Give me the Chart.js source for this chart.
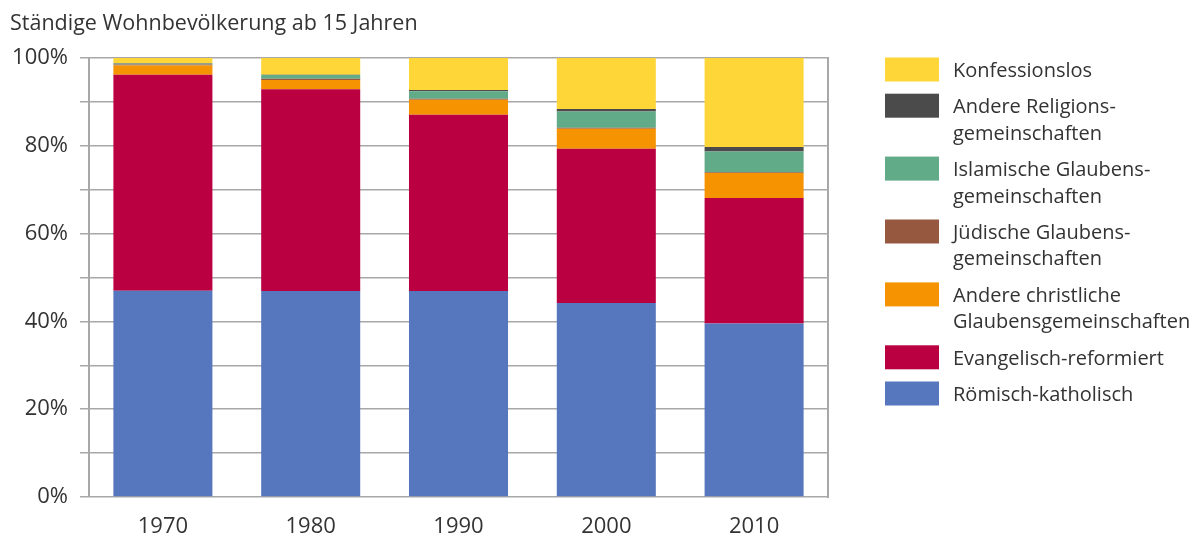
<!DOCTYPE html>
<html lang="de">
<head>
<meta charset="utf-8">
<script src="https://cdn.jsdelivr.net/npm/chart.js@4/dist/chart.umd.min.js"></script>
<style>
  html, body { margin: 0; padding: 0; background: #fff; }
  #wrap { width: 1192px; height: 537px; }
</style>
</head>
<body>
<div id="wrap"><canvas id="c" width="1192" height="537"></canvas></div>
<script>
// Werte (Anteile in %), Reihenfolge von unten nach oben.
const years = ["1970", "1980", "1990", "2000", "2010"];
const roemKath = [47.0, 46.9, 46.9, 44.2, 39.5];
const evRef = [49.2, 46.0, 40.2, 35.1, 28.6];
const andereChrist = [2.1, 2.1, 3.4, 4.6, 5.7];
const juedisch = [0.2, 0.3, 0.2, 0.2, 0.2];
const islamisch = [0.2, 0.8, 1.7, 3.7, 4.7];
const andereRelig = [0.1, 0.1, 0.3, 0.6, 1.0];
const konfessionslos = [1.2, 3.8, 7.3, 11.6, 20.3];

const seriesNames = [
  ["Römisch-katholisch"],
  ["Evangelisch-reformiert"],
  ["Andere christliche", "Glaubensgemeinschaften"],
  ["Jüdische Glaubens-", "gemeinschaften"],
  ["Islamische Glaubens-", "gemeinschaften"],
  ["Andere Religions-", "gemeinschaften"],
  ["Konfessionslos"],
];
const seriesValues = [roemKath, evRef, andereChrist, juedisch, islamisch, andereRelig, konfessionslos];
const seriesColors = ["#5677bd", "#ba0041", "#f59300", "#975840", "#62ab89", "#4b4b4b", "#ffd638"];

const FONT = "'Open Sans', sans-serif";
const TEXT = "#333333";
const GRID = "#a8a8a8";

// Legende rechts, mehrzeilig (Chart.js-Legende kann keine Zeilenumbrüche)
const sideLegend = {
  id: "sideLegend",
  afterDraw(chart) {
    const ctx = chart.ctx;
    const ds = chart.data.datasets.slice().reverse();
    let y = 57.5;
    ctx.save();
    ctx.font = "20px " + FONT;
    ctx.textBaseline = "middle";
    ctx.textAlign = "left";
    ds.forEach(d => {
      ctx.fillStyle = d.backgroundColor;
      ctx.fillRect(885, y, 54, 24);
      ctx.fillStyle = TEXT;
      d.lines.forEach((l, i) => ctx.fillText(l, 953, y + 13.5 + i * 26.7));
      y += 36.2 + (d.lines.length - 1) * 26.7;
    });
    ctx.restore();
  },
};

new Chart(document.getElementById("c"), {
  type: "bar",
  data: {
    labels: years,
    datasets: seriesValues.map((v, i) => ({
      label: seriesNames[i].join(" "), lines: seriesNames[i], data: v,
      backgroundColor: seriesColors[i], borderWidth: 0,
      barPercentage: 0.67, categoryPercentage: 1,
    })),
  },
  options: {
    responsive: false, animation: false,
    layout: { padding: { left: 10, right: 362, top: 0, bottom: 0 } },
    plugins: {
      legend: { display: false }, tooltip: { enabled: false },
      title: {
        display: true, text: "Ständige Wohnbevölkerung ab 15 Jahren", align: "start",
        color: TEXT, font: { family: FONT, size: 21.5, weight: "normal", lineHeight: 1.2 },
        padding: { top: 11, bottom: 21.2 },
      },
    },
    scales: {
      x: {
        stacked: true,
        grid: { display: false, drawTicks: false }, border: { display: false },
        ticks: { color: TEXT, font: { family: FONT, size: 22 }, padding: 17 },
        afterFit: s => { s.height = 40; },
      },
      y: {
        stacked: true, min: 0, max: 100,
        grid: { color: GRID, lineWidth: 1.5, tickLength: 9 },
        border: { display: true, color: GRID, width: 2 },
        ticks: {
          stepSize: 10, padding: 12, color: TEXT, font: { family: FONT, size: 22 },
          callback: v => (v % 20 === 0 ? v + "%" : ""),
        },
        afterFit: s => { s.width = 79; },
      },
      y2: {
        position: "right", min: 0, max: 100,
        grid: { drawOnChartArea: false, drawTicks: false },
        border: { display: true, color: GRID, width: 2 },
        ticks: { display: false },
        afterFit: s => { s.width = 2; },
      },
    },
  },
  plugins: [sideLegend],
});
</script>
</body>
</html>
